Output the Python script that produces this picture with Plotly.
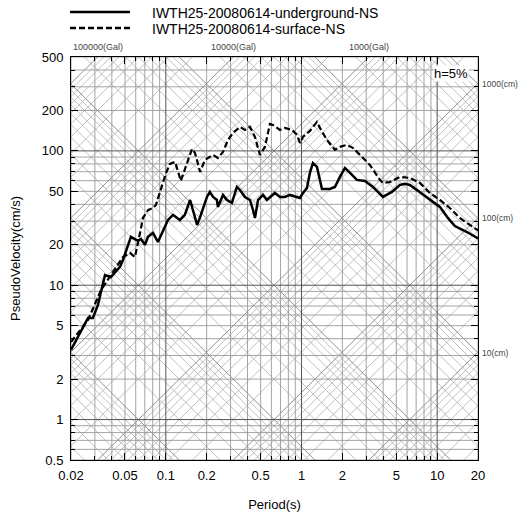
import math
import plotly.graph_objects as go

# Pseudo-velocity response spectra (h = 5 %), period in s, velocity in cm/s
period_underground = [0.02, 0.0225, 0.0267, 0.029, 0.0316, 0.0356, 0.0394, 0.0459, 0.0483, 0.0553,
                      0.0623, 0.0656, 0.0702, 0.0739, 0.0804, 0.0875, 0.0921, 0.0986, 0.1037, 0.113,
                      0.127, 0.138, 0.151, 0.170, 0.179, 0.201, 0.211, 0.223, 0.238, 0.242,
                      0.264, 0.282, 0.307, 0.334, 0.352, 0.383, 0.417, 0.439, 0.454, 0.478,
                      0.520, 0.556, 0.606, 0.637, 0.694, 0.755, 0.822, 0.926, 0.974, 1.025,
                      1.097, 1.154, 1.214, 1.30, 1.415, 1.62, 1.764, 1.92, 2.09, 2.28,
                      2.56, 2.94, 3.36, 3.98, 4.64, 5.32, 5.79, 6.30, 7.09, 8.40,
                      10.48, 12.0, 13.5, 16.6, 20.0]
pv_underground = [3.3, 4.12, 5.70, 5.70, 7.13, 11.9, 11.5, 13.7, 15.4, 22.9,
                  21.4, 22.1, 20.0, 22.9, 24.5, 21.0, 23.7, 27.2, 30.6, 33.4,
                  30.6, 33.4, 43.1, 28.1, 32.2, 45.4, 49.5, 45.4, 43.1, 38.3,
                  47.0, 43.1, 41.0, 53.9, 51.2, 45.4, 43.1, 36.3, 31.7, 43.1,
                  47.0, 43.1, 47.0, 48.6, 45.4, 45.4, 47.0, 45.4, 44.6, 48.6,
                  53.0, 68.6, 81.3, 76.0, 52.1, 52.1, 53.9, 64.0, 74.7, 68.6,
                  60.8, 59.8, 53.9, 45.4, 49.5, 55.8, 56.8, 55.8, 51.2, 45.4,
                  38.3, 31.7, 27.6, 24.9, 22.3]

period_surface = [0.02, 0.0267, 0.0333, 0.0394, 0.0429, 0.0483, 0.0544, 0.0592, 0.0645, 0.0679,
                  0.0739, 0.0804, 0.0846, 0.0906, 0.0986, 0.107, 0.117, 0.129, 0.138, 0.156,
                  0.164, 0.179, 0.194, 0.211, 0.223, 0.242, 0.264, 0.287, 0.313, 0.352,
                  0.383, 0.417, 0.454, 0.494, 0.538, 0.585, 0.616, 0.694, 0.755, 0.851,
                  0.926, 0.974, 1.025, 1.154, 1.30, 1.368, 1.54, 1.764, 1.92, 2.16,
                  2.39, 2.70, 3.19, 3.79, 3.98, 4.49, 5.32, 6.30, 7.46, 8.84,
                  10.48, 12.4, 14.7, 17.4, 20.0]
pv_surface = [3.78, 5.51, 9.22, 11.9, 13.4, 16.2, 17.4, 16.2, 24.5, 31.7,
              36.3, 37.6, 39.6, 49.5, 65.1, 80.0, 82.8, 59.8, 72.2, 103.5,
              96.6, 69.7, 85.6, 90.2, 93.3, 88.6, 98.2, 120.7, 136.1, 150.9,
              143.3, 150.9, 127.0, 93.3, 107.1, 158.8, 156.1, 143.3, 148.3, 143.3,
              131.5, 114.7, 127.0, 140.8, 164.3, 148.3, 120.7, 101.7, 107.1, 110.8,
              105.3, 93.3, 78.6, 60.8, 57.8, 58.7, 64.0, 62.9, 57.8, 48.6,
              43.1, 37.6, 31.7, 28.1, 25.6]

series_names = ["IWTH25-20080614-underground-NS", "IWTH25-20080614-surface-NS"]

x_tick_vals = [0.02, 0.05, 0.1, 0.2, 0.5, 1, 2, 5, 10, 20]
x_tick_text = ["0.02", "0.05", "0.1", "0.2", "0.5", "1", "2", "5", "10", "20"]
y_tick_vals = [0.5, 1, 2, 5, 10, 20, 50, 100, 200, 500]
y_tick_text = ["0.5", "1", "2", "5", "10", "20", "50", "100", "200", "500"]

disp_label_cm = [1000, 100, 10]          # displacement labels on the right edge
acc_label_gal = [100000, 10000, 1000]    # acceleration labels on the top edge

T_MIN, T_MAX = 0.02, 20.0
V_MIN, V_MAX = 0.5, 500.0

# figure geometry (pixels)
W = H = 519
ML, MR, MT, MB = 71, 41, 57, 59
PW, PH = W - ML - MR, H - MT - MB

FONT = "Liberation Sans, Arial, sans-serif"


def px_x(px):
    return (px - ML) / PW


def px_y(py):
    return (H - MB - py) / PH


def log_steps(lo, hi):
    """All 1..9 x 10^k values between lo and hi (inclusive)."""
    out = []
    for k in range(-4, 7):
        for m in range(1, 10):
            v = m * 10.0 ** k
            if lo * 0.999 <= v <= hi * 1.001:
                out.append(round(v, 10))
    return out


def segs(pairs):
    xs, ys = [], []
    for (x0, y0), (x1, y1) in pairs:
        xs += [x0, x1, None]
        ys += [y0, y1, None]
    return xs, ys


def is_decade(v):
    return abs(math.log10(v) - round(math.log10(v))) < 1e-9


fig = go.Figure()

# tripartite diagonal grid: constant displacement (cm) and constant acceleration (Gal)
two_pi = 2 * math.pi
disp_vals = log_steps(1e-4, 1e4)
acc_vals = log_steps(1e-2, 1e6)
for decade_group, color, width in [(False, "#b0b0b0", 0.8), (True, "#858585", 0.9)]:
    pairs = []
    for d in disp_vals:
        if is_decade(d) == decade_group:
            pairs.append(((T_MIN, two_pi * d / T_MIN), (T_MAX, two_pi * d / T_MAX)))
    for a in acc_vals:
        if is_decade(a) == decade_group:
            pairs.append(((T_MIN, a * T_MIN / two_pi), (T_MAX, a * T_MAX / two_pi)))
    xs, ys = segs(pairs)
    fig.add_trace(go.Scatter(x=xs, y=ys, mode="lines", hoverinfo="skip", showlegend=False,
                             line=dict(color=color, width=width)))

# period / velocity grid
for decade_group, color, width in [(False, "#9a9a9a", 0.9), (True, "#555555", 1.0)]:
    pairs = []
    for t in log_steps(T_MIN, T_MAX):
        if is_decade(t) == decade_group:
            pairs.append(((t, V_MIN), (t, V_MAX)))
    for v in log_steps(V_MIN, V_MAX):
        if is_decade(v) == decade_group:
            pairs.append(((T_MIN, v), (T_MAX, v)))
    xs, ys = segs(pairs)
    fig.add_trace(go.Scatter(x=xs, y=ys, mode="lines", hoverinfo="skip", showlegend=False,
                             line=dict(color=color, width=width)))

# spectra
fig.add_trace(go.Scatter(x=period_underground, y=pv_underground, mode="lines",
                         name=series_names[0], showlegend=False,
                         line=dict(color="black", width=2.5)))
fig.add_trace(go.Scatter(x=period_surface, y=pv_surface, mode="lines",
                         name=series_names[1], showlegend=False,
                         line=dict(color="black", width=2.2, dash="6px,3px")))

shapes = []
annotations = []

# legend drawn above the plot
legend_rows = [(12, "solid", series_names[0]), (28, "6px,3px", series_names[1])]
for py, dash, label in legend_rows:
    shapes.append(dict(type="line", xref="paper", yref="paper",
                       x0=px_x(70), x1=px_x(130), y0=px_y(py), y1=px_y(py),
                       line=dict(color="black", width=2.5, dash=dash)))
    annotations.append(dict(xref="paper", yref="paper", x=px_x(150), y=px_y(py + 1),
                            xanchor="left", yanchor="middle", showarrow=False, text=label,
                            font=dict(family=FONT, size=14, color="black")))

# displacement labels at the right edge
for d in disp_label_cm:
    annotations.append(dict(xref="x", yref="y", x=math.log10(T_MAX),
                            y=math.log10(two_pi * d / T_MAX),
                            xanchor="left", yanchor="middle", xshift=2, showarrow=False,
                            text=f"{d}(cm)", font=dict(family=FONT, size=8.5, color="#444444")))

# acceleration labels at the top edge
for a in acc_label_gal:
    annotations.append(dict(xref="x", yref="y", x=math.log10(two_pi * V_MAX / a),
                            y=math.log10(V_MAX), xanchor="center", yanchor="bottom", yshift=3,
                            showarrow=False, text=f"{a}(Gal)",
                            font=dict(family=FONT, size=9, color="#444444")))

# damping
annotations.append(dict(xref="paper", yref="paper", x=px_x(469), y=px_y(73),
                        xanchor="right", yanchor="middle", showarrow=False, text="h=5%",
                        bgcolor="white", borderpad=0,
                        font=dict(family=FONT, size=13, color="black")))

axis_common = dict(type="log", showgrid=False, zeroline=False, showline=True,
                   linecolor="black", linewidth=1, mirror="ticks", ticks="inside",
                   ticklen=7, tickwidth=1, tickcolor="black",
                   tickfont=dict(family=FONT, size=13, color="black"))

fig.update_layout(
    width=W, height=H,
    margin=dict(l=ML, r=MR, t=MT, b=MB, autoexpand=False),
    paper_bgcolor="white", plot_bgcolor="white",
    xaxis=dict(range=[math.log10(T_MIN), math.log10(T_MAX)],
               tickvals=x_tick_vals, ticktext=x_tick_text, ticklabelstandoff=3,
               minor=dict(tickvals=[t for t in log_steps(T_MIN, T_MAX) if t not in x_tick_vals],
                          ticks="inside", ticklen=4, tickcolor="black"),
               title=dict(text="Period(s)", font=dict(family=FONT, size=13, color="black"),
                          standoff=18),
               **axis_common),
    yaxis=dict(range=[math.log10(V_MIN), math.log10(V_MAX)],
               tickvals=y_tick_vals, ticktext=y_tick_text, ticklabelstandoff=4,
               minor=dict(tickvals=[v for v in log_steps(V_MIN, V_MAX) if v not in y_tick_vals],
                          ticks="inside", ticklen=4, tickcolor="black"),
               title=dict(text="PseudoVelocity(cm/s)",
                          font=dict(family=FONT, size=13, color="black"), standoff=18),
               **axis_common),
    shapes=shapes,
    annotations=annotations,
)

fig.write_html("out.html")
